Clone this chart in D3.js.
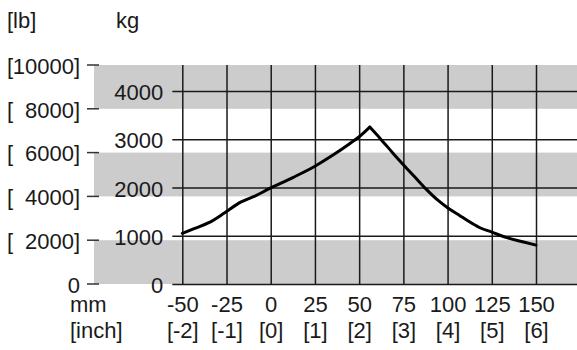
<!DOCTYPE html>
<html>
<head>
<meta charset="utf-8">
<script src="https://cdn.jsdelivr.net/npm/d3@7"></script>
<style>
  body { margin: 0; background: #fff; }
  svg text { font-family: "Liberation Sans", Arial, sans-serif; font-size: 22px; fill: #1a1a1a; }
</style>
</head>
<body>
<svg width="577" height="350"></svg>
<script>
// stroke (mm) vs force (kg)
var strokeMm = [-50, -43, -35, -26, -17, -9, 0, 8, 12.5, 25, 35, 45, 50, 56, 62, 69, 75, 81.5, 88, 95, 100, 107, 111, 118, 125, 133.5, 143, 150];
var forceKg  = [1050, 1150, 1270, 1475, 1695, 1820, 1990, 2125, 2205, 2440, 2665, 2915, 3050, 3250, 3010, 2715, 2470, 2215, 1960, 1720, 1580, 1415, 1320, 1170, 1075, 960, 870, 805];

var mmTicks = [-50, -25, 0, 25, 50, 75, 100, 125, 150];
var inchLabels = ["[-2]", "[-1]", "[0]", "[1]", "[2]", "[3]", "[4]", "[5]", "[6]"];
var kgTicks = [0, 1000, 2000, 3000, 4000];
var lbTicks = [0, 2000, 4000, 6000, 8000, 10000];
var lbLabels = ["0", "[ 2000]", "[ 4000]", "[ 6000]", "[ 8000]", "[10000]"];
var lbBands = [[0, 2000], [4000, 6000], [8000, 10000]];

var width = 577;
var plotTop = 65, plotBottom = 284;
var axisX = 182.3;
var bandLeft = 94;
var kgPerLb = 1 / 2.20462;

var svg = d3.select("svg");

var x = d3.scaleLinear().domain([-50, 150]).range([axisX, 536]);
var yLb = d3.scaleLinear().domain([0, 10000]).range([plotBottom, plotTop]);
var yKg = d3.scaleLinear().domain([0, 10000 * kgPerLb]).range([plotBottom, plotTop]);

// gray bands in lb
svg.append("g")
  .selectAll("rect")
  .data(lbBands)
  .enter()
  .append("rect")
    .attr("x", bandLeft)
    .attr("y", d => yLb(d[1]))
    .attr("width", width - bandLeft)
    .attr("height", d => yLb(d[0]) - yLb(d[1]))
    .attr("fill", "#cccccc");

// vertical grid + mm labels
var xAxis = svg.append("g")
  .attr("transform", "translate(0," + plotBottom + ")")
  .call(d3.axisBottom(x).tickValues(mmTicks).tickSize(0).tickFormat(d => String(d)));
xAxis.select(".domain").remove();
xAxis.selectAll(".tick line")
  .attr("y1", 0)
  .attr("y2", plotTop - plotBottom)
  .attr("stroke", "#1a1a1a")
  .attr("stroke-width", 1.5);
xAxis.selectAll(".tick text")
  .attr("y", 28).attr("dy", null)
  .attr("fill", "#1a1a1a")
  .style("font-size", "22px");

// inch labels
var inchAxis = svg.append("g")
  .attr("transform", "translate(0," + plotBottom + ")")
  .call(d3.axisBottom(x).tickValues(mmTicks).tickSize(0).tickFormat((d, i) => inchLabels[i]));
inchAxis.select(".domain").remove();
inchAxis.selectAll(".tick text")
  .attr("y", 54).attr("dy", null)
  .attr("fill", "#1a1a1a")
  .style("font-size", "22px");

// horizontal grid + kg labels
var kgAxis = svg.append("g")
  .attr("transform", "translate(" + axisX + ",0)")
  .call(d3.axisLeft(yKg).tickValues(kgTicks).tickSize(0).tickPadding(19).tickFormat(d => String(d)));
kgAxis.select(".domain").remove();
kgAxis.selectAll(".tick line")
  .attr("x1", -10)
  .attr("x2", width - axisX)
  .attr("stroke", "#1a1a1a")
  .attr("stroke-width", 1.5);
kgAxis.selectAll(".tick text")
  .attr("dy", "0.4em")
  .attr("fill", "#1a1a1a")
  .style("font-size", "22px");

// lb ticks and labels
var lbG = svg.append("g")
  .selectAll("g")
  .data(lbTicks)
  .enter()
  .append("g")
    .attr("transform", d => "translate(0," + yLb(d) + ")");

lbG.append("line")
  .attr("x1", 87).attr("x2", 99)
  .attr("stroke", "#333")
  .attr("stroke-width", 1.5);

lbG.append("text")
  .attr("x", 80)
  .attr("dy", "0.4em")
  .attr("text-anchor", "end")
  .text((d, i) => lbLabels[i].startsWith("[") ? lbLabels[i].slice(1).trim() : lbLabels[i]);

lbG.filter((d, i) => lbLabels[i].startsWith("["))
  .append("text")
  .attr("x", 7)
  .attr("dy", "0.4em")
  .text("[");

// unit captions
svg.append("text").attr("x", 7).attr("y", 28).text("[lb]");
svg.append("text").attr("x", 116).attr("y", 28).text("kg");
svg.append("text").attr("x", 70).attr("y", plotBottom + 28).text("mm");
svg.append("text").attr("x", 70).attr("y", plotBottom + 54).text("[inch]");

// force curve: rising and falling parts smoothed separately so the peak stays sharp
var points = d3.zip(strokeMm, forceKg);
var peak = d3.maxIndex(forceKg);

var line = d3.line()
  .x(d => x(d[0]))
  .y(d => yKg(d[1]))
  .curve(d3.curveMonotoneX);

svg.append("g")
  .selectAll("path")
  .data([points.slice(0, peak + 1), points.slice(peak)])
  .enter()
  .append("path")
    .attr("d", line)
    .attr("fill", "none")
    .attr("stroke", "#000")
    .attr("stroke-width", 3)
    .attr("stroke-linecap", "round")
    .attr("stroke-linejoin", "round");
</script>
</body>
</html>
